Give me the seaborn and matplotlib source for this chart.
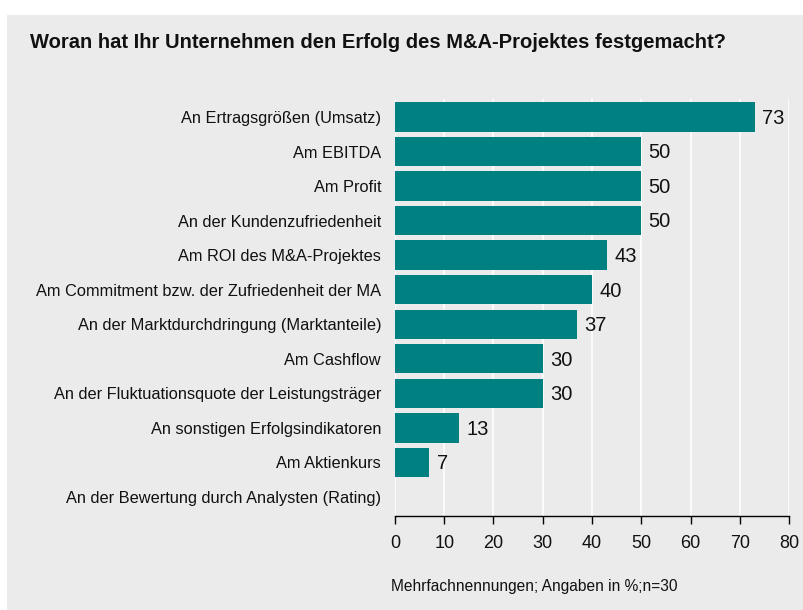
import matplotlib
matplotlib.use("Agg")
import matplotlib.pyplot as plt
import seaborn as sns
import pandas as pd
from matplotlib.patches import Rectangle

categories = [
    "An Ertragsgrößen (Umsatz)",
    "Am EBITDA",
    "Am Profit",
    "An der Kundenzufriedenheit",
    "Am ROI des M&A-Projektes",
    "Am Commitment bzw. der Zufriedenheit der MA",
    "An der Marktdurchdringung (Marktanteile)",
    "Am Cashflow",
    "An der Fluktuationsquote der Leistungsträger",
    "An sonstigen Erfolgsindikatoren",
    "Am Aktienkurs",
    "An der Bewertung durch Analysten (Rating)",
]
values = [73, 50, 50, 50, 43, 40, 37, 30, 30, 13, 7, 0]
value_labels = ["73", "50", "50", "50", "43", "40", "37", "30", "30", "13", "7", ""]
xticks = [0, 10, 20, 30, 40, 50, 60, 70, 80]

title = "Woran hat Ihr Unternehmen den Erfolg des M&A-Projektes festgemacht?"
footnote = "Mehrfachnennungen; Angaben in %;n=30"

df = pd.DataFrame({"cat": categories, "val": values})

sns.set_style("white")
plt.rcParams["font.family"] = ["Liberation Sans", "DejaVu Sans"]

BG = "#ebebeb"
BAR = "#008080"

fig = plt.figure(figsize=(8.04, 6.10), dpi=100)
fig.patch.set_facecolor("white")
bg = Rectangle((7 / 804, 0), 1 - 7 / 804, 1 - 15 / 610,
               transform=fig.transFigure, facecolor=BG,
               edgecolor="none", zorder=-10)
fig.add_artist(bg)

ax = fig.add_axes([395 / 804, 1 - 516 / 610, (789 - 395) / 804, (516 - 99) / 610])
ax.set_zorder(5)
ax.set_facecolor(BG)
sns.barplot(data=df, x="val", y="cat", color=BAR, width=0.85, saturation=1,
            edgecolor="none", linewidth=0, ax=ax, zorder=2)

ax.set_xlim(0, 80)
ax.set_ylim(11.55, -0.52)
ax.set_xticks(xticks)
ax.set_xticklabels([str(t) for t in xticks], fontsize=13)
ax.xaxis.grid(True, color="white", linewidth=1.2, zorder=1)
ax.set_axisbelow(True)
ax.tick_params(axis="x", bottom=True, direction="out", length=6, width=1,
               color="black", pad=8, labelcolor="#111111")
ax.tick_params(axis="y", left=False, length=0, pad=10, labelsize=11.8,
               labelcolor="#111111")
ax.set_xlabel("")
ax.set_ylabel("")
for s in ["top", "right", "left"]:
    ax.spines[s].set_visible(False)
ax.spines["bottom"].set_color("black")
ax.spines["bottom"].set_linewidth(1)

for i, (v, lab) in enumerate(zip(values, value_labels)):
    if lab:
        ax.text(v + 1.5, i + 0.04, lab, va="center", ha="left", fontsize=14.5,
                color="#111111")

fig.text(30 / 804, 1 - 43 / 610, title, fontsize=14.5, fontweight="bold",
         va="center", ha="left", color="#111111")
fig.text(391 / 804, 1 - 587 / 610, footnote, fontsize=11.2, va="center",
         ha="left", color="#111111")

fig.savefig("out.png", dpi=100, facecolor="white")
